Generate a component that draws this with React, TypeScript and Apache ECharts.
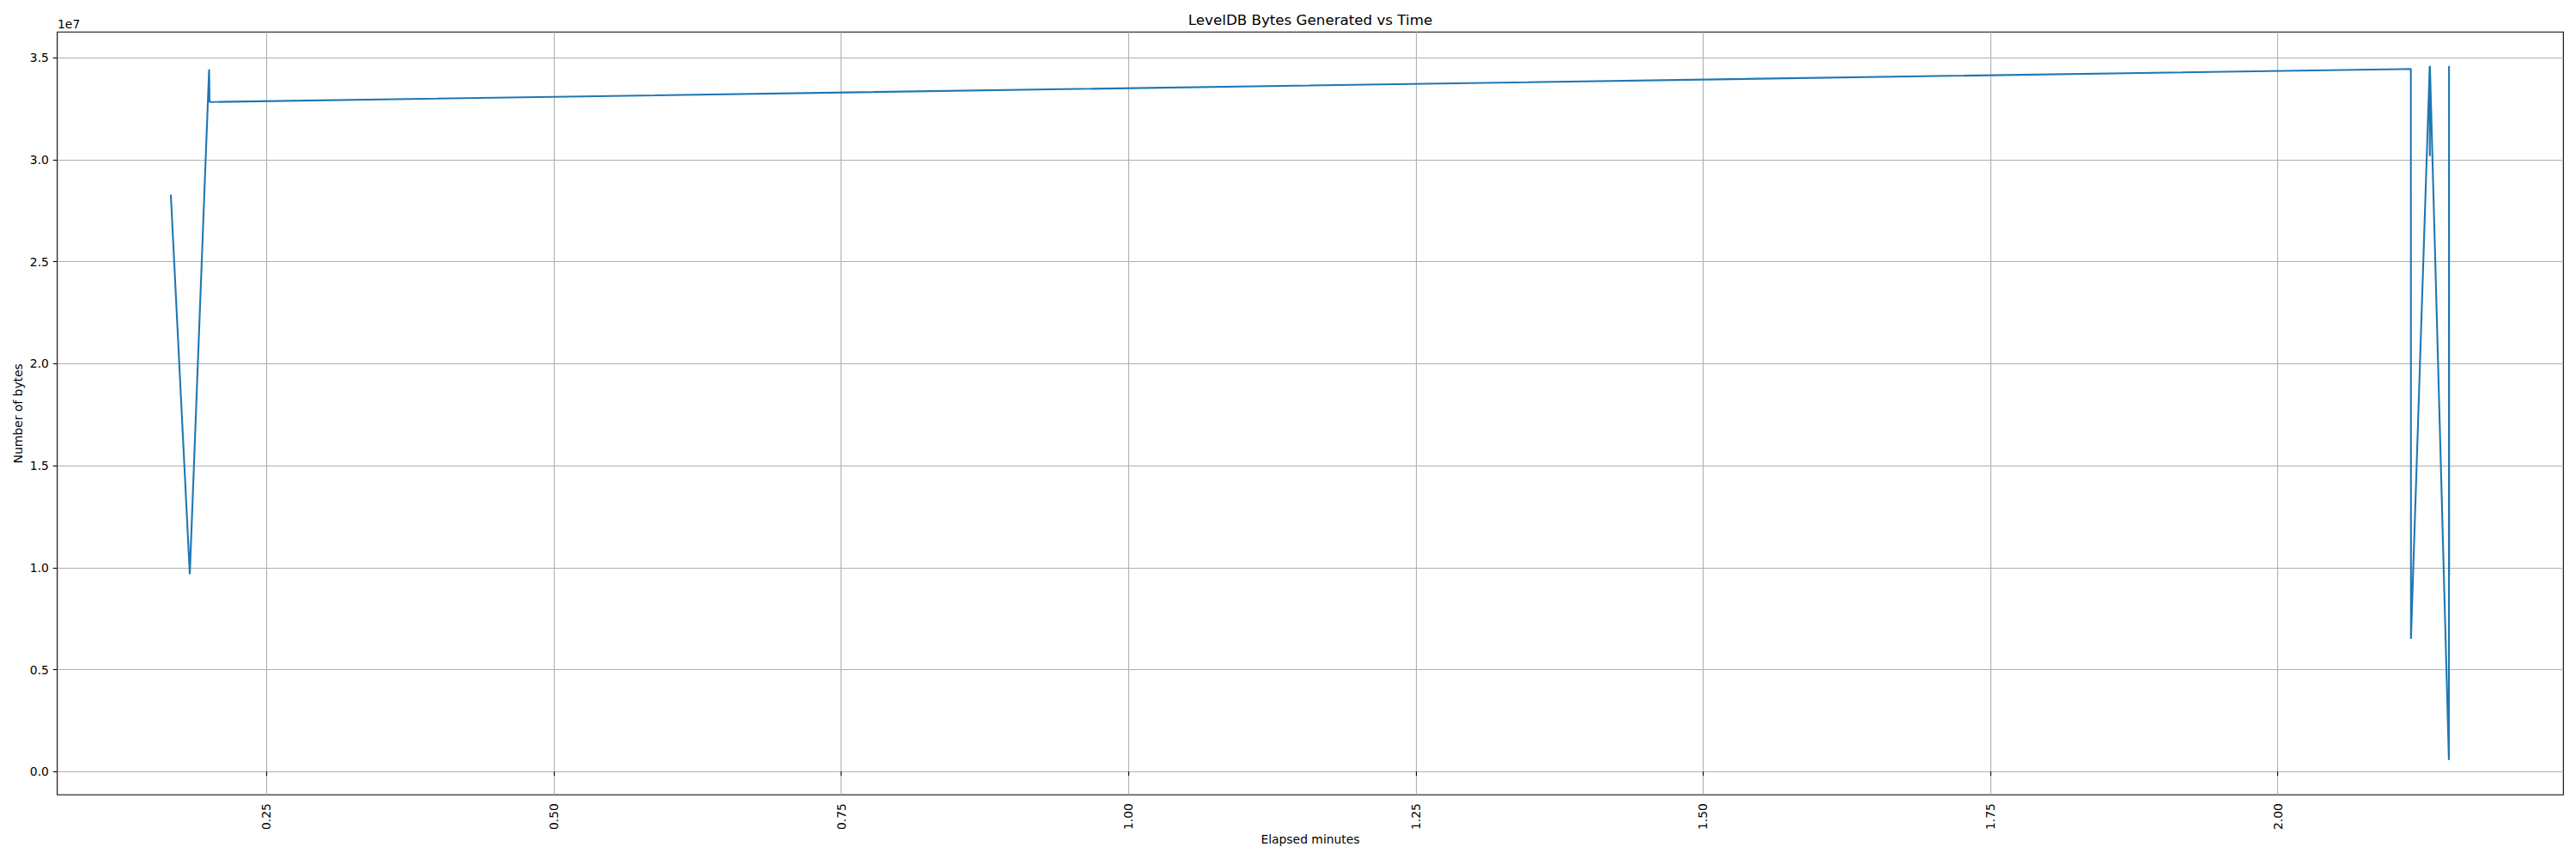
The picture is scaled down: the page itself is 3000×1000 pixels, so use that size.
import React, { useEffect, useRef } from "react";
import * as echarts from "echarts";

// Data
const elapsedMinutes = [0.1668, 0.1833, 0.2001, 0.2005, 2.1158, 2.1159, 2.1322, 2.1323, 2.1324, 2.1489, 2.149, 2.1491];
const bytesGenerated = [28290000, 9680000, 34430000, 32830000, 34450000, 6510000, 34600000, 30180000, 34600000, 570000, 34600000, 9590000];

const xTicks = [0.25, 0.5, 0.75, 1.0, 1.25, 1.5, 1.75, 2.0];
const yTicks = [0, 5e6, 10e6, 15e6, 20e6, 25e6, 30e6, 35e6];

const xRange = [0.068, 2.2485];
const yRange = [-1.14e6, 36.26e6];

const FONT = "DejaVu Sans";

export default function App() {
  const ref = useRef<HTMLDivElement>(null);
  useEffect(() => {
    if (!ref.current) return;
    const chart = echarts.init(ref.current, null, { renderer: "svg" });
    const gridLeft = 66.7;
    const gridRight = 14.7;
    const gridTop = 37.3;
    const gridBottom = 74.7;
    const axesCenterX = (gridLeft + (3000 - gridRight)) / 2;
    const axesCenterY = (gridTop + (1000 - gridBottom)) / 2;
    chart.setOption({
      animation: false,
      backgroundColor: "#ffffff",
      grid: {
        left: gridLeft,
        right: gridRight,
        top: gridTop,
        bottom: gridBottom,
        show: true,
        borderColor: "#000000",
        borderWidth: 1.1,
        backgroundColor: "transparent",
        containLabel: false,
        outerBoundsMode: "none",
      },
      xAxis: {
        type: "value",
        min: xRange[0],
        max: xRange[1],
        axisLine: { show: false },
        axisTick: {
          show: true,
          inside: false,
          length: 4.9,
          lineStyle: { color: "#000000", width: 1.1 },
          customValues: xTicks,
        },
        axisLabel: {
          customValues: xTicks,
          rotate: 90,
          margin: 9.8,
          fontFamily: FONT,
          fontSize: 13.9,
          color: "#000000",
          formatter: (v: number) => v.toFixed(2),
        },
        splitLine: { show: true, lineStyle: { color: "#b0b0b0", width: 1.1 } },
      },
      yAxis: {
        type: "value",
        min: yRange[0],
        max: yRange[1],
        axisLine: { show: false },
        axisTick: {
          show: true,
          inside: false,
          length: 4.9,
          lineStyle: { color: "#000000", width: 1.1 },
          customValues: yTicks,
        },
        axisLabel: {
          customValues: yTicks,
          margin: 9.8,
          fontFamily: FONT,
          fontSize: 13.9,
          color: "#000000",
          formatter: (v: number) => (v / 1e7).toFixed(1),
        },
        splitLine: { show: true, lineStyle: { color: "#b0b0b0", width: 1.1 } },
      },
      series: [
        {
          type: "line",
          data: elapsedMinutes.map((x, i) => [x, bytesGenerated[i]]),
          showSymbol: false,
          symbol: "none",
          lineStyle: { color: "#1f77b4", width: 2.1 },
          clip: true,
          z: 5,
        },
      ],
      graphic: [
        {
          type: "text",
          x: axesCenterX,
          y: 23,
          style: {
            text: "LevelDB Bytes Generated vs Time",
            fontFamily: FONT,
            fontSize: 16.7,
            fill: "#000000",
            textAlign: "center",
            textVerticalAlign: "middle",
          },
        },
        {
          type: "text",
          x: axesCenterX,
          y: 977,
          style: {
            text: "Elapsed minutes",
            fontFamily: FONT,
            fontSize: 13.9,
            fill: "#000000",
            textAlign: "center",
            textVerticalAlign: "middle",
          },
        },
        {
          type: "text",
          x: 21,
          y: axesCenterY,
          rotation: Math.PI / 2,
          style: {
            text: "Number of bytes",
            fontFamily: FONT,
            fontSize: 13.9,
            fill: "#000000",
            textAlign: "center",
            textVerticalAlign: "middle",
          },
        },
        {
          type: "text",
          x: 67,
          y: 28,
          style: {
            text: "1e7",
            fontFamily: FONT,
            fontSize: 13.9,
            fill: "#000000",
            textAlign: "left",
            textVerticalAlign: "middle",
          },
        },
      ],
    });
    return () => chart.dispose();
  }, []);
  return (
    <div
      ref={ref}
      style={{ position: "fixed", left: 0, top: 0, width: 3000, height: 1000 }}
    />
  );
}
